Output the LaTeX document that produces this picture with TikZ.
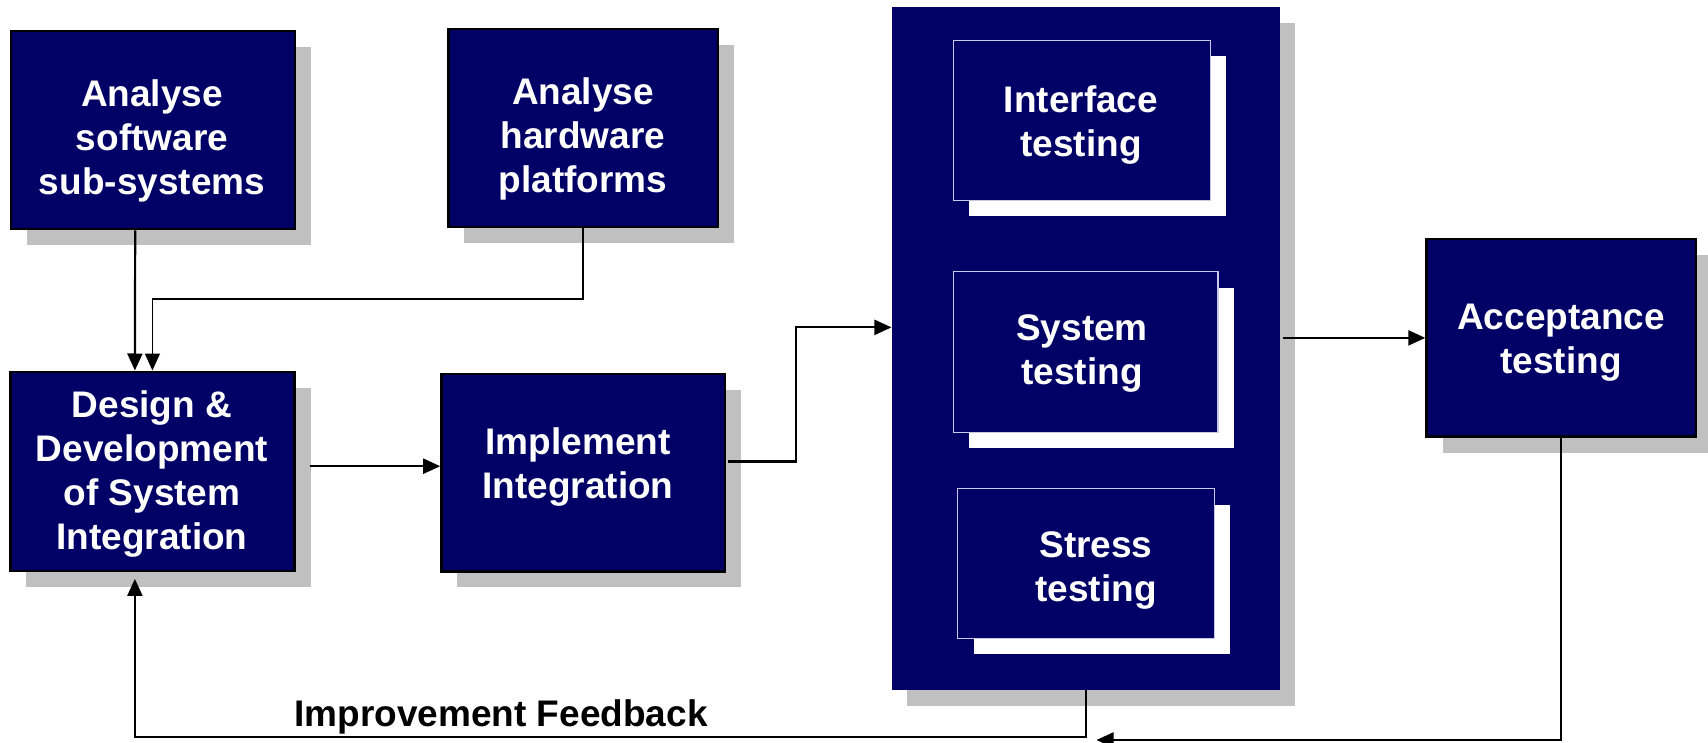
\documentclass[tikz,border=0pt]{standalone}
\usepackage{fontspec}
\setmainfont{Liberation Sans}
\usetikzlibrary{arrows.meta,shadows}
\definecolor{navy}{RGB}{0,0,102}
\definecolor{shgray}{RGB}{192,192,192}
\definecolor{rimline}{RGB}{200,200,230}

\begin{document}
\begin{tikzpicture}[x=1pt,y=-1pt,
  box/.style={draw=black, line width=2.4pt, fill=navy, inner sep=0pt,
    drop shadow={shadow xshift=16pt, shadow yshift=-16pt, fill=shgray, opacity=1}},
  panel/.style={draw=none, fill=navy, inner sep=0pt,
    drop shadow={shadow xshift=15pt, shadow yshift=-16pt, fill=shgray, opacity=1}},
  inbox/.style={draw=rimline, line width=1.2pt, fill=navy, inner sep=0pt,
    drop shadow={shadow xshift=16pt, shadow yshift=-16pt, fill=white, opacity=1}},
  lbl/.style={text=white, font=\bfseries\fontsize{37}{44}\selectfont, align=center, inner sep=0pt},
  arr/.style={line width=2.2pt, -{Triangle[length=17pt,width=15pt]}},
  arrthin/.style={line width=1.6pt, -{Triangle[length=17pt,width=15pt]}}
]
\useasboundingbox (0,0) rectangle (1708,743);

% analysis boxes
\node[box, minimum width=284pt, minimum height=198pt] (A) at (152.7,130.2) {};
\node[lbl] (tA) at (152,140.5) {Analyse\\software\\sub-systems};
\node[box, minimum width=269.5pt, minimum height=198pt] (B) at (583.2,128.3) {};
\node[lbl] (tB) at (583,138.5) {Analyse\\hardware\\platforms};

% design and implementation
\node[box, minimum width=284.2pt, minimum height=199pt] (C) at (152.4,471.2) {};
\node[lbl] (tC) at (152,474.5) {Design \&\\Development\\of System\\Integration};
\node[box, minimum width=283.6pt, minimum height=197.6pt] (D) at (583.2,472.5) {};
\node[lbl] (tD) at (578,467.5) {Implement\\Integration};

% testing panel
\node[panel, minimum width=388pt, minimum height=682.5pt] (T) at (1085.65,348.35) {};
\node[inbox, minimum width=257pt, minimum height=160.2pt] (I) at (1081.95,120.4) {};
\node[lbl] (tI) at (1081,125.5) {Interface\\testing};
\node[inbox, minimum width=264.5pt, minimum height=160.6pt] (S) at (1085.65,351.9) {};
\node[lbl] (tS) at (1082,353.5) {System\\testing};
\node[inbox, minimum width=256.6pt, minimum height=149.8pt] (St) at (1085.9,563.5) {};
\node[lbl] (tSt) at (1096,570.5) {Stress\\testing};

% acceptance
\node[box, minimum width=269.2pt, minimum height=197.2pt] (Acc) at (1561.1,337.9) {};
\node[lbl] (tAcc) at (1561,342.5) {Acceptance\\testing};

% feedback label
\node[font=\bfseries\fontsize{37}{44}\selectfont, inner sep=0pt] (fb) at (501,716.5) {Improvement Feedback};

% connectors
\draw[arr] ([xshift=-17.5pt]A.south) -- ([xshift=-17.5pt]C.north);
\draw[arrthin] (B.south) -- ++(0,70.5) -| (C.north);

\coordinate (cd) at ([xshift=14pt,yshift=5pt]C.east);
\draw[arr] (cd) -- (cd -| D.west);

\coordinate (do) at ([xshift=2pt,yshift=11pt]D.east);
\draw[arr] (do) -- ++(68,0) |- ([yshift=21pt]T.west);

\coordinate (te) at ([xshift=3pt]T.east);
\draw[arr] (te |- Acc.west) -- (Acc.west);

\coordinate (fbtip) at (1096.5,740);
\draw[arr] (Acc.south) |- (fbtip);

\draw[arr] (T.south) -- ++(0,47) -| ([xshift=-17.5pt,yshift=-7pt]C.south);
\end{tikzpicture}
\end{document}
